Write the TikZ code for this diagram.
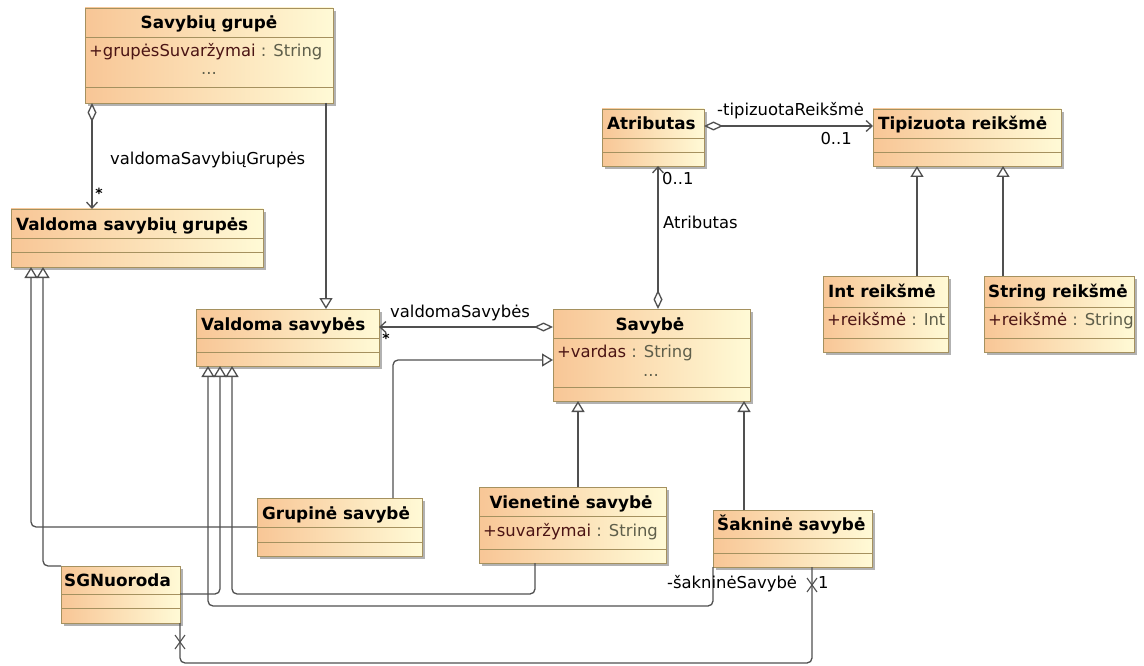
\documentclass[tikz,border=0pt]{standalone}
\usepackage{fontspec}
\setmainfont{DejaVu Sans}
\usetikzlibrary{arrows.meta,shadows}

\definecolor{clsleft}{RGB}{248,198,150}
\definecolor{clsright}{RGB}{255,250,214}
\definecolor{clsborder}{RGB}{165,145,95}
\definecolor{wirecol}{RGB}{80,80,80}
\definecolor{attname}{RGB}{75,20,20}
\definecolor{atttype}{RGB}{95,95,75}

\tikzset{
  classbox/.style={draw=clsborder, line width=0.9pt, left color=clsleft, right color=clsright,
    inner sep=0pt, outer sep=0pt, anchor=north west,
    drop shadow={shadow xshift=3pt, shadow yshift=-3pt, opacity=0.3, fill=black}},
  compline/.style={draw=clsborder, line width=0.9pt},
  clsname/.style={font=\fontsize{16.8}{20}\selectfont\bfseries, inner sep=0pt},
  attrtext/.style={font=\fontsize{16.4}{20}\selectfont, inner sep=0pt},
  lbl/.style={font=\fontsize{16.4}{20}\selectfont, inner sep=0pt, text=black},
  mult/.style={font=\fontsize{14}{16}\selectfont\bfseries, inner sep=0pt},
  wire/.style={draw=wirecol, line width=1.3pt, rounded corners=5pt},
  gen/.style={wire, -{Triangle[length=11pt,width=13pt,fill=white]}},
  agg/.style={wire, {Diamond[length=19pt,width=9pt,fill=white]}-{Straight Barb[length=6pt,width=11pt]}},
  xmark/.style={draw=wirecol, line width=1.1pt},
}

% class box: name, x1, y1, x2, y2, first divider, second divider
\newcommand\umlclass[7]{%
  \node[classbox, minimum width=#4pt-#2pt, minimum height=#5pt-#3pt] (#1) at (#2,#3) {};
  \draw[compline] (#2,#6) -- (#4,#6);
  \draw[compline] (#2,#7) -- (#4,#7);
}
\newcommand\attrline[2]{{\color{attname}#1} {\color{atttype}: #2}}

\begin{document}
\begin{tikzpicture}[x=1pt,y=-1pt]
  \fill[white] (0,0) rectangle (1144,666);
  \useasboundingbox (0,0) rectangle (1144,666);

  % classes
  \umlclass{sg}{85}{8}{333}{103}{37}{87}
  \umlclass{vsg}{11}{209}{263}{267}{238}{252}
  \umlclass{vs}{196}{309}{379}{366}{338}{352}
  \umlclass{sav}{553}{309}{750}{401}{338}{387}
  \umlclass{gr}{257}{498}{422}{556}{527}{542}
  \umlclass{sgn}{61}{566}{180}{623}{594}{608}
  \umlclass{vie}{479}{487}{666}{563}{516}{549}
  \umlclass{sak}{713}{510}{872}{567}{538}{553}
  \umlclass{atr}{602}{109}{704}{166}{138}{152}
  \umlclass{tip}{873}{109}{1061}{166}{138}{152}
  \umlclass{int}{823}{276}{948}{352}{307}{338}
  \umlclass{str}{984}{276}{1134}{352}{307}{338}

  % class names
  \node[clsname, anchor=base] (sg-n) at (209,29) {Savybių grupė};
  \node[clsname, anchor=base west] (vsg-n) at (16,230) {Valdoma savybių grupės};
  \node[clsname, anchor=base west] (vs-n) at (201,330) {Valdoma savybės};
  \node[clsname, anchor=base] (sav-n) at (650,330) {Savybė};
  \node[clsname, anchor=base west] (gr-n) at (262,519) {Grupinė savybė};
  \node[clsname, anchor=base west] (sgn-n) at (64,586) {SGNuoroda};
  \node[clsname, anchor=base] (vie-n) at (571,508) {Vienetinė savybė};
  \node[clsname, anchor=base west] (sak-n) at (717,530) {Šakninė savybė};
  \node[clsname, anchor=base west] (atr-n) at (607,130) {Atributas};
  \node[clsname, anchor=base west] (tip-n) at (878,130) {Tipizuota reikšmė};
  \node[clsname, anchor=base west] (int-n) at (828,297) {Int reikšmė};
  \node[clsname, anchor=base west] (str-n) at (988,297) {String reikšmė};

  % attributes
  \node[attrtext, anchor=base west] (sg-a) at (89,57) {\attrline{+grupėsSuvaržymai}{String}};
  \node[attrtext, anchor=base, text=atttype] (sg-d) at (209,75) {...};
  \node[attrtext, anchor=base west] (sav-a) at (557,357) {\attrline{+vardas}{String}};
  \node[attrtext, anchor=base, text=atttype] (sav-d) at (651,376) {...};
  \node[attrtext, anchor=base west] (vie-a) at (483,536) {\attrline{+suvaržymai}{String}};
  \node[attrtext, anchor=base west] (int-a) at (827,325) {\attrline{+reikšmė}{Int}};
  \node[attrtext, anchor=base west] (str-a) at (988,325) {\attrline{+reikšmė}{String}};

  % generalizations
  \draw[gen] ([xshift=-7pt]sg.south east) -- ([xshift=130pt]vs.north west);
  \draw[gen] ([yshift=-29pt]gr.north west) -| ([xshift=20pt]vsg.south west);
  \draw[gen] (sgn.north west) -| ([xshift=32pt]vsg.south west);
  \draw[gen] ([yshift=-28pt]sgn.north east) -| ([xshift=24pt]vs.south west);
  \coordinate (j6) at (232,594);
  \draw[gen] ([xshift=56pt]vie.south west) |- (j6) -- ([xshift=36pt]vs.south west);
  \coordinate (j7) at (208,606);
  \draw[gen] (sak.south west) |- (j7) -- ([xshift=12pt]vs.south west);
  \draw[gen] ([xshift=136pt]gr.north west) |- ([yshift=-51pt]sav.north west);
  \draw[gen] ([xshift=99pt]vie.north west) -- ([xshift=25pt]sav.south west);
  \draw[gen] ([xshift=31pt]sak.north west) -- ([xshift=-6pt]sav.south east);
  \draw[gen] ([xshift=94pt]int.north west) -- ([xshift=44pt]tip.south west);
  \draw[gen] ([xshift=19pt]str.north west) -- ([xshift=130pt]tip.south west);

  % aggregations
  \draw[agg] ([xshift=7pt]sg.south west) -- ([xshift=81pt]vsg.north west);
  \draw[agg] ([yshift=-18pt]sav.north west) -- ([yshift=-18pt]vs.north east);
  \draw[agg] ([xshift=105pt]sav.north west) -- ([xshift=56pt]atr.south west);
  \draw[agg] ([yshift=-17pt]atr.north east) -- ([yshift=-17pt]tip.north west);

  % association with non-navigable ends
  \coordinate (j16) at (812,663);
  \draw[wire] (sgn.south east) |- (j16) -- ([xshift=99pt]sak.south west);
  \coordinate (xa) at (180,642);
  \coordinate (xb) at (812,585);
  \draw[xmark] (xa) ++(-5,-7) -- ++(10,14) (xa) ++(-5,7) -- ++(10,-14);
  \draw[xmark] (xb) ++(-5,-7) -- ++(10,14) (xb) ++(-5,7) -- ++(10,-14);

  % role names and multiplicities
  \node[lbl, anchor=base west] (l1) at (110,165) {valdomaSavybiųGrupės};
  \node[mult, anchor=north] (m1) at (99,188) {*};
  \node[lbl, anchor=base west] (l2) at (390,317) {valdomaSavybės};
  \node[mult, anchor=north] (m2) at (386,333) {*};
  \node[lbl, anchor=base west] (l3) at (717,116) {-tipizuotaReikšmė};
  \node[lbl, anchor=base east] (m3) at (852,145) {0..1};
  \node[lbl, anchor=base west] (m4) at (662,185) {0..1};
  \node[lbl, anchor=base west] (l4) at (663,228) {Atributas};
  \node[lbl, anchor=base west] (l5) at (667,588) {-šakninėSavybė};
  \node[lbl, anchor=base west] (m5) at (818,588) {1};
\end{tikzpicture}
\end{document}
